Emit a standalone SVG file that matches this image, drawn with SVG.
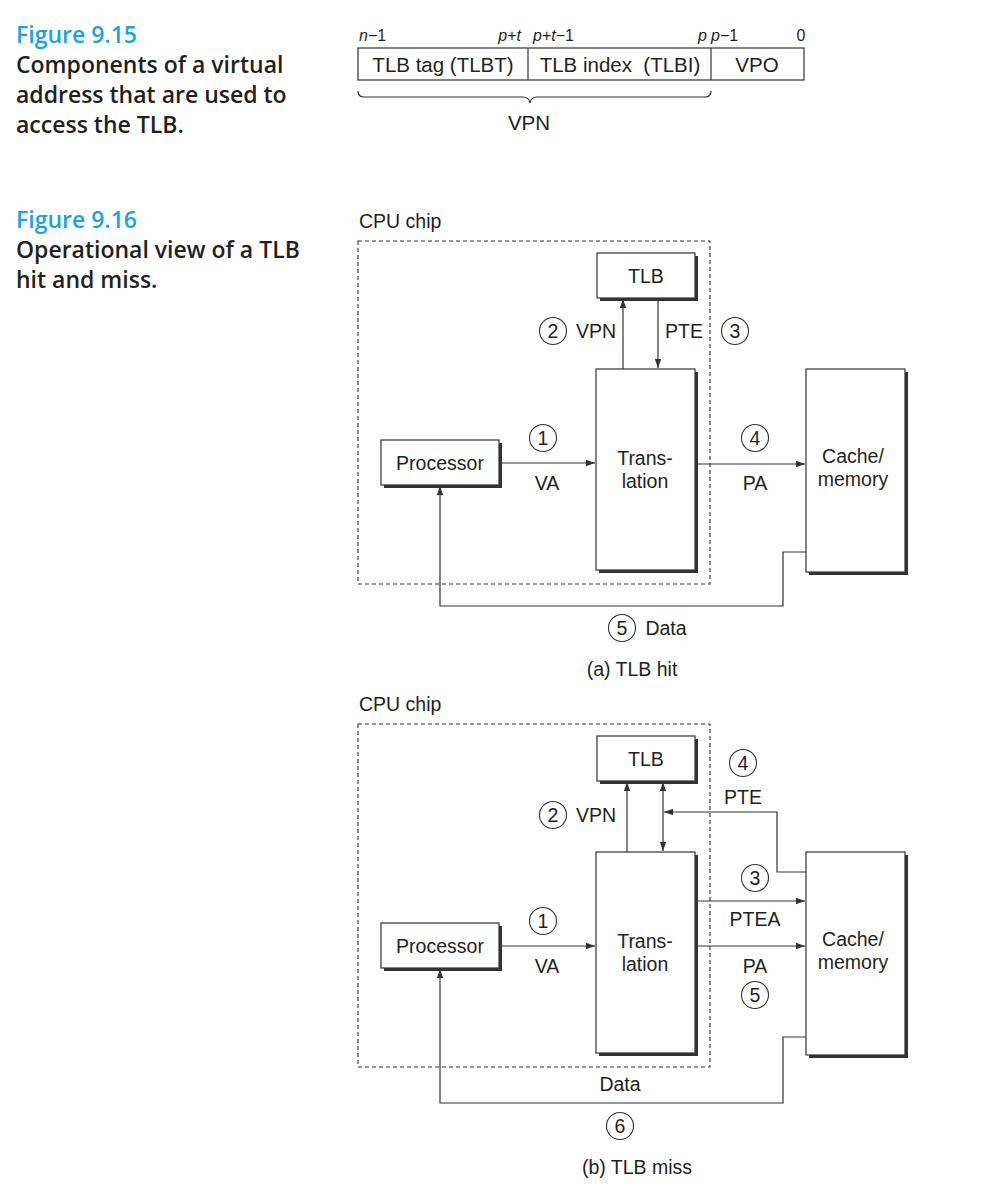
<svg xmlns="http://www.w3.org/2000/svg" width="1006" height="1200" viewBox="0 0 1006 1200">
<style>
.cap{font-family:"Open Sans","Liberation Sans",sans-serif;font-weight:600;font-size:23px;fill:#231f20}
.fig{font-family:"Open Sans","Liberation Sans",sans-serif;font-weight:600;font-size:23px;fill:#1aa3e0}
.t{font-family:"Liberation Sans",Arial,sans-serif;font-size:19.5px;fill:#231f20}
.ta{font-family:"Liberation Sans",Arial,sans-serif;font-size:20.5px;fill:#231f20}
.tm{text-anchor:middle}
.b{font-family:"Liberation Sans",Arial,sans-serif;font-size:16px;fill:#231f20}
.box{fill:#fff;stroke:#333;stroke-width:1.2}
.sh{fill:#333}
.ln{fill:none;stroke:#333;stroke-width:1.2}
.dash{fill:none;stroke:#333;stroke-width:1.1;stroke-dasharray:4,3}
.circ{fill:#fff;stroke:#333;stroke-width:1.1}
</style>
<defs>
<marker id="ah" viewBox="0 0 10 10" refX="10" refY="5" markerWidth="9" markerHeight="9" markerUnits="userSpaceOnUse" orient="auto-start-reverse">
<path d="M0,1.5 L10,5 L0,8.5 z" fill="#333"/>
</marker>
</defs>

<g id="captions">
<text class="fig" x="16" y="43">Figure 9.15</text>
<text class="cap" x="16" y="73">Components of a virtual</text>
<text class="cap" x="16" y="103">address that are used to</text>
<text class="cap" x="16" y="133">access the TLB.</text>
<text class="fig" x="16" y="228">Figure 9.16</text>
<text class="cap" x="16" y="258">Operational view of a TLB</text>
<text class="cap" x="16" y="288">hit and miss.</text>
</g>

<g id="vaddr">
<text class="b" x="359" y="41"><tspan font-style="italic">n</tspan>−1</text>
<text class="b" x="521" y="41" text-anchor="end"><tspan font-style="italic">p</tspan>+<tspan font-style="italic">t</tspan></text>
<text class="b" x="533" y="41"><tspan font-style="italic">p</tspan>+<tspan font-style="italic">t</tspan>−1</text>
<text class="b" x="707" y="41" text-anchor="end" font-style="italic">p</text>
<text class="b" x="711" y="41"><tspan font-style="italic">p</tspan>−1</text>
<text class="b" x="801" y="41" text-anchor="middle">0</text>
<rect x="358" y="48" width="446" height="32" fill="#fff" stroke="#333" stroke-width="1.2"/>
<line class="ln" x1="528" y1="48" x2="528" y2="80"/>
<line class="ln" x1="711" y1="48" x2="711" y2="80"/>
<text class="ta tm" x="443" y="72">TLB tag (TLBT)</text>
<text class="ta tm" x="620" y="72" xml:space="preserve">TLB index  (TLBI)</text>
<text class="ta tm" x="757" y="72">VPO</text>
<path class="ln" d="M358,91 Q358,97 364,97 L523,97 Q529,97 530,103 Q531,97 537,97 L705,97 Q711,97 711,91"/>
<text class="ta tm" x="529" y="130">VPN</text>
</g>

<!-- (a) TLB hit -->
<g id="a-cpu">
<text class="t" x="359" y="228">CPU chip</text>
<rect class="dash" x="358" y="241" width="352" height="343"/>
</g>
<g id="a-tlb">
<rect class="sh" x="600" y="256" width="98" height="45"/>
<rect class="box" x="597" y="253" width="98" height="45"/>
<text class="t tm" x="646" y="283">TLB</text>
</g>
<g id="a-translation">
<rect class="sh" x="599" y="372" width="99" height="201"/>
<rect class="box" x="596" y="369" width="99" height="201"/>
<text class="t tm" x="645" y="465">Trans-</text>
<text class="t tm" x="645" y="488">lation</text>
</g>
<g id="a-processor">
<rect class="sh" x="384" y="443" width="118" height="45"/>
<rect class="box" x="381" y="440" width="118" height="45"/>
<text class="t tm" x="440" y="470">Processor</text>
</g>
<g id="a-cache">
<rect class="sh" x="809" y="372" width="99" height="203"/>
<rect class="box" x="806" y="369" width="99" height="203"/>
<text class="t tm" x="853" y="463">Cache/</text>
<text class="t tm" x="853" y="486">memory</text>
</g>
<g id="a-connectors">
<line class="ln" x1="623" y1="369" x2="623" y2="299" marker-end="url(#ah)"/>
<line class="ln" x1="658" y1="298" x2="658" y2="368" marker-end="url(#ah)"/>
<line class="ln" x1="499" y1="463" x2="595" y2="463" marker-end="url(#ah)"/>
<line class="ln" x1="695" y1="464" x2="805" y2="464" marker-end="url(#ah)"/>
<polyline class="ln" points="806,552 783,552 783,606 440,606 440,486" marker-end="url(#ah)"/>
</g>
<g id="a-labels">
<circle class="circ" cx="553" cy="331" r="13.5"/><text class="t tm" x="553" y="338">2</text>
<text class="t tm" x="596" y="338">VPN</text>
<text class="t tm" x="684" y="338">PTE</text>
<circle class="circ" cx="735" cy="331" r="13.5"/><text class="t tm" x="735" y="338">3</text>
<circle class="circ" cx="543" cy="438" r="13.5"/><text class="t tm" x="543" y="445">1</text>
<text class="t tm" x="547" y="490">VA</text>
<circle class="circ" cx="755" cy="438" r="13.5"/><text class="t tm" x="755" y="445">4</text>
<text class="t tm" x="755" y="490">PA</text>
<circle class="circ" cx="622" cy="628" r="13.5"/><text class="t tm" x="622" y="635">5</text>
<text class="t tm" x="666" y="635">Data</text>
<text class="t tm" x="632" y="676">(a) TLB hit</text>
</g>

<!-- (b) TLB miss -->
<g id="b-cpu">
<text class="t" x="359" y="711">CPU chip</text>
<rect class="dash" x="358" y="724" width="352" height="343"/>
</g>
<g id="b-tlb">
<rect class="sh" x="600" y="739" width="98" height="45"/>
<rect class="box" x="597" y="736" width="98" height="45"/>
<text class="t tm" x="646" y="766">TLB</text>
</g>
<g id="b-translation">
<rect class="sh" x="599" y="855" width="99" height="201"/>
<rect class="box" x="596" y="852" width="99" height="201"/>
<text class="t tm" x="645" y="948">Trans-</text>
<text class="t tm" x="645" y="971">lation</text>
</g>
<g id="b-processor">
<rect class="sh" x="384" y="926" width="118" height="45"/>
<rect class="box" x="381" y="923" width="118" height="45"/>
<text class="t tm" x="440" y="953">Processor</text>
</g>
<g id="b-cache">
<rect class="sh" x="809" y="855" width="99" height="203"/>
<rect class="box" x="806" y="852" width="99" height="203"/>
<text class="t tm" x="853" y="946">Cache/</text>
<text class="t tm" x="853" y="969">memory</text>
</g>
<g id="b-connectors">
<line class="ln" x1="627" y1="852" x2="627" y2="782" marker-end="url(#ah)"/>
<line class="ln" x1="663" y1="782" x2="663" y2="851" marker-start="url(#ah)" marker-end="url(#ah)"/>
<polyline class="ln" points="806,872 777,872 777,812 664,812" marker-end="url(#ah)"/>
<line class="ln" x1="499" y1="946" x2="595" y2="946" marker-end="url(#ah)"/>
<line class="ln" x1="695" y1="901" x2="805" y2="901" marker-end="url(#ah)"/>
<line class="ln" x1="695" y1="946" x2="805" y2="946" marker-end="url(#ah)"/>
<polyline class="ln" points="806,1037 783,1037 783,1103 440,1103 440,969" marker-end="url(#ah)"/>
</g>
<g id="b-labels">
<circle class="circ" cx="553" cy="815" r="13.5"/><text class="t tm" x="553" y="822">2</text>
<text class="t tm" x="596" y="822">VPN</text>
<circle class="circ" cx="743" cy="763" r="13.5"/><text class="t tm" x="743" y="770">4</text>
<text class="t tm" x="743" y="804">PTE</text>
<circle class="circ" cx="755" cy="878" r="13.5"/><text class="t tm" x="755" y="885">3</text>
<text class="t tm" x="755" y="926">PTEA</text>
<circle class="circ" cx="543" cy="921" r="13.5"/><text class="t tm" x="543" y="928">1</text>
<text class="t tm" x="547" y="973">VA</text>
<text class="t tm" x="755" y="973">PA</text>
<circle class="circ" cx="755" cy="995" r="13.5"/><text class="t tm" x="755" y="1002">5</text>
<text class="t tm" x="620" y="1091">Data</text>
<circle class="circ" cx="620" cy="1126" r="13.5"/><text class="t tm" x="620" y="1133">6</text>
<text class="t tm" x="637" y="1174">(b) TLB miss</text>
</g>
</svg>
